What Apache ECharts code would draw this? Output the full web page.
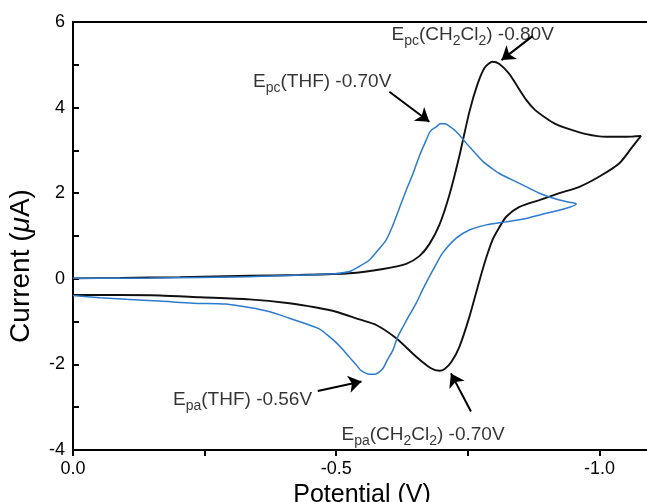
<!DOCTYPE html>
<html>
<head>
<meta charset="utf-8">
<script src="https://cdn.jsdelivr.net/npm/echarts@6/dist/echarts.min.js"></script>
<style>
html,body{margin:0;padding:0;background:#fff;}
#chart{width:647px;height:502px;}
</style>
</head>
<body>
<div id="chart"></div>
<script>
// Potential (V) and current (uA) for the CH2Cl2 scan (black)
const ch2cl2Potential = [
  0.000,-0.089,-0.203,-0.335,-0.430,-0.525,-0.589,-0.633,-0.658,-0.677,-0.696,-0.715,-0.734,-0.753,-0.768,-0.782,-0.797,
  -0.810,-0.828,-0.844,-0.861,-0.878,-0.899,-0.916,-0.937,-0.975,-1.013,-1.051,-1.079,
  -1.063,-1.038,-1.000,-0.962,-0.924,-0.886,-0.848,-0.823,-0.807,-0.797,-0.785,-0.772,-0.753,-0.734,-0.719,-0.706,-0.696,
  -0.680,-0.652,-0.614,-0.576,-0.544,-0.500,-0.462,-0.411,-0.335,-0.241,-0.165,-0.089,0.000
];
const ch2cl2Current = [
  0.01,0.02,0.04,0.07,0.09,0.13,0.23,0.35,0.53,0.81,1.26,1.96,2.87,3.90,4.53,4.93,5.07,
  5.02,4.80,4.50,4.18,3.94,3.75,3.62,3.52,3.38,3.32,3.32,3.34,
  3.09,2.70,2.39,2.15,2.00,1.84,1.68,1.45,1.14,0.91,0.49,-0.05,-0.89,-1.59,-1.94,-2.11,-2.15,
  -2.09,-1.82,-1.39,-1.08,-0.95,-0.77,-0.67,-0.57,-0.48,-0.43,-0.39,-0.38,-0.38
];
// Potential (V) and current (uA) for the THF scan (blue)
const thfPotential = [
  0.000,-0.146,-0.335,-0.487,-0.525,-0.548,-0.563,-0.578,-0.595,-0.607,-0.620,-0.633,-0.646,-0.658,-0.671,-0.679,-0.690,-0.698,-0.706,
  -0.715,-0.728,-0.747,-0.763,-0.778,-0.797,-0.810,-0.848,-0.886,-0.924,-0.943,-0.956,
  -0.937,-0.899,-0.861,-0.823,-0.785,-0.753,-0.728,-0.702,-0.689,-0.677,-0.664,-0.652,-0.639,-0.627,-0.616,-0.608,-0.597,-0.589,-0.580,-0.573,
  -0.563,-0.557,-0.546,-0.538,-0.525,-0.513,-0.499,-0.487,-0.468,-0.449,-0.411,-0.374,-0.335,-0.290,-0.228,-0.165,-0.101,-0.051,0.000
];
const thfCurrent = [
  0.01,0.02,0.05,0.11,0.17,0.32,0.44,0.65,0.91,1.23,1.65,2.07,2.46,2.87,3.24,3.45,3.55,3.62,3.62,
  3.57,3.44,3.17,2.95,2.75,2.57,2.46,2.23,2.00,1.84,1.79,1.75,
  1.65,1.53,1.41,1.33,1.26,1.14,0.95,0.60,0.32,0.05,-0.26,-0.57,-0.85,-1.12,-1.38,-1.66,-1.90,-2.09,-2.19,-2.23,
  -2.23,-2.21,-2.13,-2.01,-1.83,-1.66,-1.48,-1.35,-1.17,-1.08,-0.92,-0.77,-0.67,-0.59,-0.57,-0.52,-0.48,-0.44,-0.39
];
// Annotation labels
const labelTexts = [
  '{m|E}{s|pc}{m|(CH}{s|2}{m|Cl}{s|2}{m|) -0.80V}',
  '{m|E}{s|pc}{m|(THF) -0.70V}',
  '{m|E}{s|pa}{m|(THF) -0.56V}',
  '{m|E}{s|pa}{m|(CH}{s|2}{m|Cl}{s|2}{m|) -0.70V}'
];
const labelAnchors = [[-0.605, 5.70], [-0.342, 4.60], [-0.190, -2.83], [-0.510, -3.65]];
const arrowTails = [[-0.873, 5.67], [-0.601, 4.37], [-0.465, -2.62], [-0.756, -3.10]];
const arrowTips  = [[-0.814, 5.11], [-0.677, 3.67], [-0.548, -2.40], [-0.718, -2.21]];
const xTicks = [0, -0.25, -0.5, -0.75, -1.0];
const yTicks = [-4, -2, 0, 2, 4, 6];

const FONT = '"Liberation Sans", Arial, sans-serif';
const pair = (xs, ys) => xs.map((x, k) => [x, ys[k]]);

const chart = echarts.init(document.getElementById('chart'));
chart.setOption({
  animation: false,
  backgroundColor: '#fff',
  textStyle: { fontFamily: FONT },
  grid: {
    left: 73, top: 22, width: 658, height: 428, show: true, borderColor: '#000', borderWidth: 2,
    backgroundColor: 'transparent', containLabel: false, outerBoundsMode: 'none'
  },
  xAxis: {
    type: 'value', min: -1.25, max: 0, interval: 0.25, inverse: true,
    name: 'Potential (V)', nameLocation: 'middle', nameGap: 29,
    nameTextStyle: { fontSize: 25, color: '#000', fontFamily: FONT, padding: [0, 80, 0, 0] },
    axisLine: { show: true, onZero: false, lineStyle: { color: '#000', width: 2 } },
    axisTick: { show: true, inside: false, length: 6, lineStyle: { color: '#000', width: 2 } },
    splitLine: { show: false },
    axisLabel: {
      margin: 10, fontSize: 18, color: '#000', fontFamily: FONT,
      formatter: v => (Math.abs(v * 2 - Math.round(v * 2)) < 1e-6 ? (Math.abs(v) < 1e-9 ? '0.0' : v.toFixed(1)) : '')
    }
  },
  yAxis: {
    type: 'value', min: -4, max: 6, interval: 1,
    name: '{n|Current (}{i|μ}{n|A)}', nameLocation: 'middle', nameGap: 38,
    nameTextStyle: {
      fontSize: 28, color: '#000', fontFamily: FONT, padding: [0, 60, 0, 0],
      rich: {
        n: { fontSize: 28, color: '#000', fontFamily: FONT },
        i: { fontSize: 28, color: '#000', fontFamily: FONT, fontStyle: 'italic' }
      }
    },
    axisLine: { show: true, onZero: false, lineStyle: { color: '#000', width: 2 } },
    axisTick: { show: true, inside: true, length: 6, lineStyle: { color: '#000', width: 2 } },
    splitLine: { show: false },
    axisLabel: {
      margin: 8, fontSize: 18, color: '#000', fontFamily: FONT,
      formatter: v => (yTicks.indexOf(v) >= 0 ? String(v) : '')
    }
  },
  series: [
    {
      type: 'line', name: 'CH2Cl2', data: pair(ch2cl2Potential, ch2cl2Current),
      showSymbol: false, smooth: 0.25, clip: true,
      lineStyle: { color: '#111', width: 1.9 }
    },
    {
      type: 'line', name: 'THF', data: pair(thfPotential, thfCurrent),
      showSymbol: false, smooth: 0.25, clip: true,
      lineStyle: { color: '#2b7bd0', width: 1.5 }
    },
    {
      type: 'scatter', data: labelAnchors.map((p, k) => ({ value: p, label: { formatter: labelTexts[k] } })),
      symbolSize: 0, silent: true,
      label: {
        show: true, position: 'right', distance: 0, color: '#000',
        rich: {
          m: { fontSize: 19, lineHeight: 27, color: '#000', fontFamily: FONT },
          s: { fontSize: 14, lineHeight: 14, padding: [13, 0, 0, 0], color: '#000', fontFamily: FONT }
        }
      },
      markLine: {
        silent: true, symbol: ['none', 'arrow'], symbolSize: 13,
        label: { show: false },
        lineStyle: { color: '#000', width: 2, type: 'solid' },
        emphasis: { disabled: true },
        data: arrowTails.map((t, k) => [{ coord: t }, { coord: arrowTips[k] }])
      }
    }
  ]
});
</script>
</body>
</html>
